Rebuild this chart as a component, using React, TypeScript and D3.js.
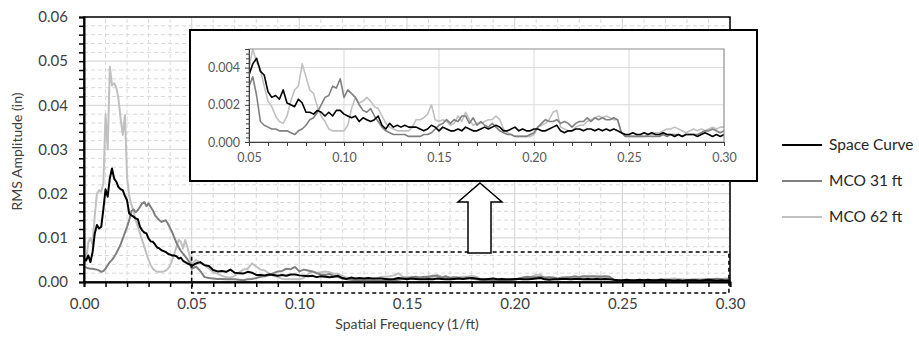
import React, { useRef, useEffect } from "react";
import * as d3 from "d3";

const W = 919;
const H = 342;

const seriesNames = ["Space Curve", "MCO 31 ft", "MCO 62 ft"];
const seriesColors = ["#000000", "#808080", "#c0c0c0"];

// sampling grid: fine below 0.05, coarser above
const lowFreq = d3.range(51).map(i => i / 1000);
const highFreq = d3.range(125).map(i => (52 + 2 * i) / 1000);

const spaceCurveLow = [
  0.0053, 0.0049, 0.006, 0.0045, 0.0068, 0.011, 0.0129, 0.0121, 0.0125, 0.0165,
  0.021, 0.0193, 0.0235, 0.0257, 0.0234, 0.0227, 0.0215, 0.021, 0.0208, 0.0195,
  0.0185, 0.0155, 0.0151, 0.0148, 0.0144, 0.0142, 0.0125, 0.0117, 0.0112, 0.011,
  0.0098, 0.0092, 0.0091, 0.0085, 0.0078, 0.0076, 0.0072, 0.007, 0.0068, 0.0064,
  0.0062, 0.006, 0.006, 0.0058, 0.0053, 0.0055, 0.0048, 0.0045, 0.0042, 0.004,
  0.0036
];
const spaceCurveHigh = [
  0.0042, 0.0045, 0.0038, 0.0036, 0.0027, 0.0024, 0.0025, 0.0023, 0.0028, 0.0021,
  0.002, 0.0019, 0.0023, 0.0021, 0.0016, 0.0016, 0.0015, 0.0017, 0.0016, 0.0014,
  0.0016, 0.0014, 0.0017, 0.0017, 0.0015, 0.0014, 0.0013, 0.0014, 0.0011, 0.0013,
  0.0012, 0.0011, 0.0012, 0.0014, 0.0009, 0.0007, 0.001, 0.0008, 0.0009, 0.0008,
  0.0009, 0.0008, 0.0008, 0.0008, 0.0007, 0.0006, 0.0007, 0.0009, 0.0008, 0.0006,
  0.0008, 0.0007, 0.0006, 0.0006, 0.0007, 0.0006, 0.0008, 0.0007, 0.0006, 0.0006,
  0.0007, 0.0008, 0.0007, 0.0008, 0.0009, 0.0008, 0.0006, 0.0006, 0.0007, 0.0008,
  0.0006, 0.0007, 0.0006, 0.0006, 0.0007, 0.0007, 0.0006, 0.0006, 0.0007, 0.0008,
  0.0009, 0.0006, 0.0005, 0.0006, 0.0006, 0.0007, 0.0007, 0.0006, 0.0007, 0.0007,
  0.0006, 0.0007, 0.0006, 0.0007, 0.0006, 0.0007, 0.0006, 0.0005, 0.0004, 0.0004,
  0.0005, 0.0004, 0.0004, 0.0005, 0.0004, 0.0005, 0.0004, 0.0004, 0.0005, 0.0004,
  0.0004, 0.0003, 0.0004, 0.0003, 0.0004, 0.0004, 0.0004, 0.0003, 0.0004, 0.0005,
  0.0004, 0.0003, 0.0004, 0.0003, 0.0004
];

const mco31Low = [
  0.0034, 0.0033, 0.0031, 0.003, 0.003, 0.0029, 0.0028, 0.0026, 0.0023, 0.0025,
  0.003, 0.0038, 0.0045, 0.005, 0.0057, 0.0065, 0.0075, 0.0085, 0.0098, 0.0112,
  0.0125, 0.014, 0.016, 0.0164, 0.0158, 0.0163, 0.017, 0.0178, 0.0181, 0.0172,
  0.0178, 0.017, 0.0162, 0.0151, 0.0145, 0.014, 0.0136, 0.0138, 0.014, 0.0132,
  0.0122, 0.0112, 0.01, 0.0088, 0.0078, 0.007, 0.0064, 0.0058, 0.0052, 0.0044,
  0.003
];
const mco31High = [
  0.0035, 0.0025, 0.0011, 0.0009, 0.0008, 0.0007, 0.0007, 0.0006, 0.0006, 0.0006,
  0.0005, 0.0004, 0.0006, 0.0007, 0.0009, 0.0012, 0.0013, 0.0016, 0.002, 0.0024,
  0.0025, 0.003, 0.0029, 0.0034, 0.0024, 0.0028, 0.0026, 0.0024, 0.002, 0.0017,
  0.0016, 0.0018, 0.0014, 0.0011, 0.0008, 0.0006, 0.0005, 0.0004, 0.0004, 0.0004,
  0.0004, 0.0003, 0.0003, 0.0003, 0.0003, 0.0004, 0.0004, 0.0005, 0.0007, 0.0009,
  0.001, 0.0012, 0.001, 0.0012, 0.0011, 0.0014, 0.0014, 0.001, 0.0013, 0.0009,
  0.0011, 0.0009, 0.0008, 0.001, 0.0008, 0.0006, 0.0005, 0.0004, 0.0004, 0.0003,
  0.0003, 0.0003, 0.0003, 0.0004, 0.0005, 0.0008, 0.001, 0.0012, 0.0011, 0.0011,
  0.0012, 0.001, 0.0011, 0.001, 0.0008, 0.001, 0.0011, 0.0011, 0.0013, 0.0011,
  0.0013, 0.0012, 0.0013, 0.0012, 0.0012, 0.0013, 0.0012, 0.0005, 0.0003, 0.0003,
  0.0003, 0.0003, 0.0003, 0.0003, 0.0003, 0.0003, 0.0003, 0.0003, 0.0004, 0.0003,
  0.0004, 0.0004, 0.0004, 0.0003, 0.0004, 0.0004, 0.0004, 0.0004, 0.0005, 0.0006,
  0.0006, 0.0007, 0.0006, 0.0005, 0.0006, 0.0004
].slice(0, 125);

const mco62Low = [
  0.0042, 0.0049, 0.009, 0.01, 0.0085, 0.015, 0.02, 0.0208, 0.0204, 0.0223,
  0.038, 0.03, 0.0488, 0.0445, 0.045, 0.044, 0.0415, 0.037, 0.0333, 0.0378,
  0.0238, 0.0195, 0.0175, 0.016, 0.014, 0.0125, 0.011, 0.0095, 0.008, 0.0064,
  0.005, 0.0038, 0.003, 0.0026, 0.0023, 0.0023, 0.0023, 0.0024, 0.0026, 0.003,
  0.0038, 0.005, 0.0065, 0.008, 0.0095, 0.0091, 0.0076, 0.0095, 0.0079, 0.006,
  0.004
];
const mco62High = [
  0.005, 0.0043, 0.0039, 0.003, 0.0022, 0.0019, 0.0014, 0.0011, 0.001, 0.0014,
  0.0022, 0.0028, 0.003, 0.0042, 0.0035, 0.0028, 0.0026, 0.0019, 0.0014, 0.0011,
  0.0007, 0.0006, 0.0006, 0.0006, 0.0006, 0.0009, 0.0018, 0.0024, 0.0021, 0.0022,
  0.0024, 0.0022, 0.0019, 0.0018, 0.0014, 0.001, 0.0008, 0.0007, 0.0006, 0.0006,
  0.0006, 0.0006, 0.0008, 0.0012, 0.0012, 0.0013, 0.0015, 0.002, 0.0012, 0.0011,
  0.0012, 0.0011, 0.0009, 0.001, 0.0014, 0.0011, 0.0016, 0.0012, 0.0009, 0.001,
  0.001, 0.0011, 0.0012, 0.0012, 0.0014, 0.0012, 0.0007, 0.0005, 0.0004, 0.0003,
  0.0003, 0.0003, 0.0003, 0.0003, 0.0004, 0.0008, 0.0009, 0.001, 0.0012, 0.0016,
  0.0017, 0.0008, 0.0007, 0.0006, 0.0006, 0.0008, 0.0009, 0.0009, 0.0011, 0.0012,
  0.0013, 0.0014, 0.0013, 0.0014, 0.0013, 0.0012, 0.0012, 0.0005, 0.0004, 0.0003,
  0.0003, 0.0003, 0.0003, 0.0003, 0.0004, 0.0004, 0.0005, 0.0005, 0.0006, 0.0007,
  0.0007, 0.0008, 0.0007, 0.0006, 0.0005, 0.0006, 0.0007, 0.0006, 0.0007, 0.0006,
  0.0007, 0.0008, 0.0007, 0.0008, 0.0008
];

const mainXTicks = [0, 0.05, 0.1, 0.15, 0.2, 0.25, 0.3];
const mainYTicks = [0, 0.01, 0.02, 0.03, 0.04, 0.05, 0.06];
const insetXTicks = [0.05, 0.1, 0.15, 0.2, 0.25, 0.3];
const insetYTicks = [0, 0.002, 0.004];

const App = () => {
  const svgRef = useRef<SVGSVGElement>(null);

  useEffect(() => {
    const svg = d3.select(svgRef.current);
    svg.selectAll("*").remove();

    const font = "Lato, 'Open Sans', sans-serif";
    const freq = lowFreq.concat(highFreq);
    const series = [
      spaceCurveLow.concat(spaceCurveHigh),
      mco31Low.concat(mco31High),
      mco62Low.concat(mco62High)
    ];
    const drawOrder = [2, 1, 0];

    // ---- main chart ----
    const x = d3.scaleLinear().domain([0, 0.3]).range([84, 730]);
    const y = d3.scaleLinear().domain([0, 0.06]).range([282, 17]);

    const defs = svg.append("defs");
    defs.append("clipPath").attr("id", "mainClip")
      .append("rect")
      .attr("x", x(0)).attr("y", y(0.06))
      .attr("width", x(0.3) - x(0)).attr("height", y(0) - y(0.06));

    const grid = svg.append("g");
    const minorX = d3.range(1, 30).filter(i => i % 5 !== 0).map(i => i / 100);
    const minorY = d3.range(1, 30).filter(i => i % 5 !== 0).map(i => i / 500);

    grid.selectAll("line.mx").data(minorX).enter().append("line")
      .attr("x1", d => x(d)).attr("x2", d => x(d))
      .attr("y1", y(0)).attr("y2", y(0.06))
      .attr("stroke", "#d9d9d9").attr("stroke-dasharray", "4,3");
    grid.selectAll("line.my").data(minorY).enter().append("line")
      .attr("y1", d => y(d)).attr("y2", d => y(d))
      .attr("x1", x(0)).attr("x2", x(0.3))
      .attr("stroke", "#d9d9d9").attr("stroke-dasharray", "4,3");
    grid.selectAll("line.gx").data(mainXTicks).enter().append("line")
      .attr("x1", d => x(d)).attr("x2", d => x(d))
      .attr("y1", y(0)).attr("y2", y(0.06))
      .attr("stroke", "#d9d9d9").attr("stroke-width", 1.2);
    grid.selectAll("line.gy").data(mainYTicks).enter().append("line")
      .attr("y1", d => y(d)).attr("y2", d => y(d))
      .attr("x1", x(0)).attr("x2", x(0.3))
      .attr("stroke", "#d9d9d9").attr("stroke-width", 1.2);

    const line = d3.line<number>()
      .x((d, i) => x(freq[i]))
      .y(d => y(d));

    const lines = svg.append("g").attr("clip-path", "url(#mainClip)");
    drawOrder.forEach(k => {
      lines.append("path")
        .datum(series[k])
        .attr("d", line)
        .attr("fill", "none")
        .attr("stroke", seriesColors[k])
        .attr("stroke-width", 2)
        .attr("stroke-linejoin", "round");
    });

    // plot frame
    svg.append("rect")
      .attr("x", x(0)).attr("y", y(0.06))
      .attr("width", x(0.3) - x(0)).attr("height", y(0) - y(0.06))
      .attr("fill", "none").attr("stroke", "#000").attr("stroke-width", 1.5);

    // minor ticks
    const xAxisMinor = svg.append("g")
      .attr("transform", `translate(0,${y(0)})`)
      .call(d3.axisBottom(x).tickValues(minorX).tickSize(5).tickFormat(() => ""));
    const yAxisMinor = svg.append("g")
      .attr("transform", `translate(${x(0)},0)`)
      .call(d3.axisLeft(y).tickValues(minorY).tickSize(5).tickFormat(() => ""));
    [xAxisMinor, yAxisMinor].forEach(g => {
      g.select(".domain").remove();
      g.selectAll(".tick line").attr("stroke", "#000").attr("stroke-width", 1.5);
    });

    const xAxis = svg.append("g")
      .attr("transform", `translate(0,${y(0)})`)
      .call(d3.axisBottom(x).tickValues(mainXTicks).tickSize(5).tickPadding(11)
        .tickFormat(d3.format(".2f")));
    const yAxis = svg.append("g")
      .attr("transform", `translate(${x(0)},0)`)
      .call(d3.axisLeft(y).tickValues(mainYTicks).tickSize(5).tickPadding(11)
        .tickFormat(d3.format(".2f")));
    [xAxis, yAxis].forEach(g => {
      g.select(".domain").attr("stroke", "#000").attr("stroke-width", 2);
      g.selectAll(".tick line").attr("stroke", "#000").attr("stroke-width", 1.5);
      g.selectAll(".tick text")
        .attr("fill", "#404040")
        .style("font-family", font)
        .style("font-size", "15px");
    });

    svg.append("text")
      .attr("transform", `translate(22,${(y(0) + y(0.06)) / 2 + 2}) rotate(-90)`)
      .attr("text-anchor", "middle")
      .attr("fill", "#404040")
      .style("font-family", font)
      .style("font-size", "14px")
      .text("RMS Amplitude (in)");

    svg.append("text")
      .attr("x", 407).attr("y", 329)
      .attr("text-anchor", "middle")
      .attr("fill", "#404040")
      .style("font-family", font)
      .style("font-size", "14px")
      .text("Spatial Frequency (1/ft)");

    // dashed zoom region
    svg.append("rect")
      .attr("x", x(0.05)).attr("y", y(0.0068))
      .attr("width", x(0.2995) - x(0.05)).attr("height", y(-0.0025) - y(0.0068))
      .attr("fill", "none").attr("stroke", "#000")
      .attr("stroke-width", 1.5).attr("stroke-dasharray", "4,3");

    // ---- inset ----
    svg.append("rect")
      .attr("x", 190).attr("y", 30).attr("width", 567).attr("height", 151)
      .attr("fill", "#fff").attr("stroke", "#000").attr("stroke-width", 2);

    const xi = d3.scaleLinear().domain([0.05, 0.3]).range([249, 724]);
    const yi = d3.scaleLinear().domain([0, 0.005]).range([142, 49]);

    defs.append("clipPath").attr("id", "insetClip")
      .append("rect")
      .attr("x", xi(0.05)).attr("y", yi(0.005))
      .attr("width", xi(0.3) - xi(0.05)).attr("height", yi(0) - yi(0.005));

    const ig = svg.append("g");
    ig.selectAll("line.ix").data(insetXTicks.slice(1)).enter().append("line")
      .attr("x1", d => xi(d)).attr("x2", d => xi(d))
      .attr("y1", yi(0)).attr("y2", yi(0.005))
      .attr("stroke", "#d9d9d9");
    ig.selectAll("line.iy").data(insetYTicks.slice(1)).enter().append("line")
      .attr("y1", d => yi(d)).attr("y2", d => yi(d))
      .attr("x1", xi(0.05)).attr("x2", xi(0.3))
      .attr("stroke", "#d9d9d9");

    const insetIdx = d3.range(freq.length).filter(i => freq[i] >= 0.05);
    const insetLine = d3.line<number>()
      .x(i => xi(freq[i]))
      .y(i => yi(0));
    const insetLines = svg.append("g").attr("clip-path", "url(#insetClip)");
    drawOrder.forEach(k => {
      insetLines.append("path")
        .datum(insetIdx)
        .attr("d", insetLine.y(i => yi(series[k][i])))
        .attr("fill", "none")
        .attr("stroke", seriesColors[k])
        .attr("stroke-width", 1.6)
        .attr("stroke-linejoin", "round");
    });

    svg.append("rect")
      .attr("x", xi(0.05)).attr("y", yi(0.005))
      .attr("width", xi(0.3) - xi(0.05)).attr("height", yi(0) - yi(0.005))
      .attr("fill", "none").attr("stroke", "#8c8c8c").attr("stroke-width", 1);

    const insetMinorX = d3.range(6, 30).filter(i => i % 5 !== 0).map(i => i / 100);
    const insetMinorY = d3.range(1, 20).filter(i => i % 8 !== 0).map(i => i / 4000);
    const ixMinor = svg.append("g")
      .attr("transform", `translate(0,${yi(0)})`)
      .call(d3.axisBottom(xi).tickValues(insetMinorX).tickSize(4).tickFormat(() => ""));
    const iyMinor = svg.append("g")
      .attr("transform", `translate(${xi(0.05)},0)`)
      .call(d3.axisLeft(yi).tickValues(insetMinorY).tickSize(3).tickFormat(() => ""));
    [ixMinor, iyMinor].forEach(g => {
      g.select(".domain").remove();
      g.selectAll(".tick line").attr("stroke", "#404040");
    });
    const ixAxis = svg.append("g")
      .attr("transform", `translate(0,${yi(0)})`)
      .call(d3.axisBottom(xi).tickValues(insetXTicks).tickSize(4).tickPadding(7)
        .tickFormat(d3.format(".2f")));
    const iyAxis = svg.append("g")
      .attr("transform", `translate(${xi(0.05)},0)`)
      .call(d3.axisLeft(yi).tickValues(insetYTicks).tickSize(4).tickPadding(5)
        .tickFormat(d3.format(".3f")));
    [ixAxis, iyAxis].forEach(g => {
      g.select(".domain").attr("stroke", "#404040");
      g.selectAll(".tick line").attr("stroke", "#404040");
      g.selectAll(".tick text")
        .attr("fill", "#595959")
        .style("font-family", font)
        .style("font-size", "12.5px");
    });

    // block arrow pointing from the zoom region to the inset
    const arrow = [[480, 183], [502, 202], [491, 202], [491, 253], [468, 253], [468, 202], [458, 202]];
    svg.append("polygon")
      .attr("points", arrow.map(p => p.join(",")).join(" "))
      .attr("fill", "#fff").attr("stroke", "#000").attr("stroke-width", 1.5);

    // ---- legend ----
    const legend = svg.append("g").attr("transform", "translate(782,145)");
    seriesNames.forEach((name, i) => {
      legend.append("line")
        .attr("x1", 0).attr("x2", 40)
        .attr("y1", i * 36).attr("y2", i * 36)
        .attr("stroke", seriesColors[i]).attr("stroke-width", 2);
      legend.append("text")
        .attr("x", 47).attr("y", i * 36)
        .attr("dy", "0.35em")
        .attr("fill", "#262626")
        .style("font-family", font)
        .style("font-size", "15.5px")
        .text(name);
    });
  }, []);

  return (
    <div style={{ position: "absolute", left: 0, top: 0, width: W, height: H, background: "#fff" }}>
      <svg ref={svgRef} width={W} height={H}></svg>
    </div>
  );
};

export default App;
